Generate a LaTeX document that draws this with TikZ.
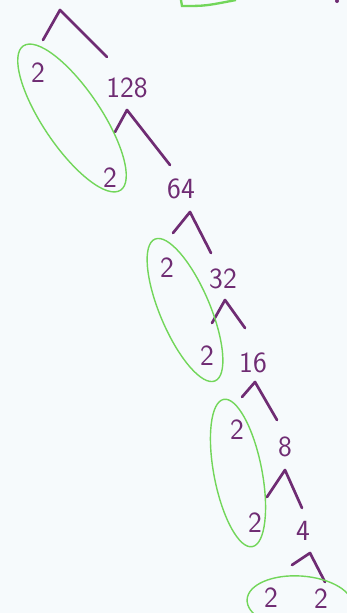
\documentclass[tikz,border=0pt]{standalone}
\usepackage{xcolor}
\usepackage{tikz}
\tikzset{every picture/.append style={font=\sffamily\fontsize{25}{25}\selectfont}}
\definecolor{penpurple}{HTML}{6F2C73}
\definecolor{pengreen}{HTML}{72D65A}
\definecolor{paper}{HTML}{F6FAFC}

\begin{document}
\begin{tikzpicture}[x=0.03cm,y=-0.03cm,
    branch/.style={penpurple,line width=2.3pt,line cap=round,line join=round},
    ring/.style={pengreen,line width=1.2pt},
    num/.style={text=penpurple,inner sep=0pt}]
    \fill[paper] (0,0) rectangle (347,613);
    \useasboundingbox (0,0) rectangle (347,613);
    \node[num] (two1) at (38,73) {2};
    \node[num] (n128) at (127,88) {128};
    \node[num] (two2) at (110,178) {2};
    \node[num] (n64) at (181,189) {64};
    \node[num] (two3) at (167,268) {2};
    \node[num] (n32) at (223,279) {32};
    \node[num] (two4) at (207,356) {2};
    \node[num] (n16) at (253,363) {16};
    \node[num] (two5) at (237,430) {2};
    \node[num] (n8) at (285,447) {8};
    \node[num] (two6) at (255,523) {2};
    \node[num] (n4) at (303,531) {4};
    \node[num] (two7) at (271,598) {2};
    \node[num] (two8) at (321,599) {2};
    \foreach \k/\ax/\ay/\lx/\ly/\rx/\ry in {k0/60/10/43/40/107/57, k1/127/110/115/132/170/165,
      k2/190/212/173/233/211/253, k3/225/300/212/323/245/328, k4/255/382/242/397/277/420,
      k5/285/470/267/497/302/508, k6/310/553/292/565/325/582} {
      \coordinate (\k) at (\ax,\ay);
      \coordinate (\k l) at (\lx,\ly);
      \coordinate (\k r) at (\rx,\ry);
      \draw[branch] (\k l) -- (\k) -- (\k r);
    }
    \begin{scope}
      \clip (0,0) rectangle (347,613);
      \draw[ring,rotate around={-56:(72,118)}] (72,118) ellipse [x radius=87, y radius=29];
      \draw[ring,rotate around={-67:(185,310)}] (185,310) ellipse [x radius=77, y radius=25];
      \draw[ring,rotate around={-79:(238,473)}] (238,473) ellipse [x radius=75, y radius=24];
      \draw[ring,rotate around={-4:(300,603)}] (300,603) ellipse [x radius=53, y radius=27];
      \draw[ring,line width=2pt] (181,0) -- (182,6) .. controls (205,6) .. (236,0);
    \end{scope}
    \fill[penpurple] (337,1) circle (2);
  \end{tikzpicture}
\end{document}
